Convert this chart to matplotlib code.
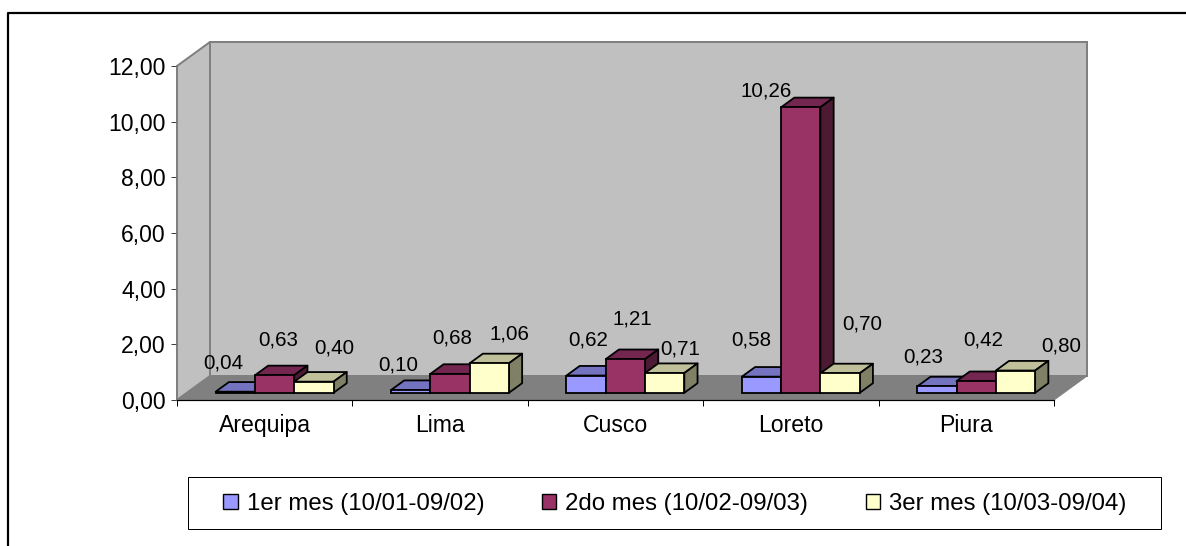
import matplotlib
matplotlib.use('Agg')
import matplotlib.pyplot as plt
from matplotlib.patches import Polygon, Patch, Rectangle
from matplotlib.lines import Line2D
from matplotlib.ticker import FuncFormatter

plt.rcParams['font.family'] = ['Liberation Sans', 'DejaVu Sans']

ciudades = ['Arequipa', 'Lima', 'Cusco', 'Loreto', 'Piura']
mes1 = [0.04, 0.10, 0.62, 0.58, 0.23]
mes2 = [0.63, 0.68, 1.21, 10.26, 0.42]
mes3 = [0.40, 1.06, 0.71, 0.70, 0.80]
series = ['1er mes (10/01-09/02)', '2do mes (10/02-09/03)', '3er mes (10/03-09/04)']
yticks = [0, 2, 4, 6, 8, 10, 12]

# frente, tapa y lateral de cada serie
colores = [('#9999FF', '#7373BF', '#4D4D80'),
           ('#993366', '#732650', '#4D1A33'),
           ('#FFFFCC', '#BFBF99', '#808066')]

W, H = 1186, 546
# desplazamiento de las etiquetas respecto a la esquina superior de la barra (px)
offsets = [[(8, 29), (23, 35), (40, 34)],
           [(7, 25), (22, 36), (40, 29)],
           [(22, 36), (27, 40), (35, 24)],
           [(9, 37), (-15, 16), (42, 49)],
           [(6, 29), (27, 41), (65, 25)]]

fig = plt.figure(figsize=(W / 72, H / 72), dpi=72, facecolor='white')
# plano frontal del grafico
ax = fig.add_axes([177 / W, 1 - 400 / H, 877 / W, 334 / H])
ax.set_xlim(0, 5)
ax.set_ylim(0, 12)
ax.patch.set_visible(False)
for s in ['top', 'right']:
    ax.spines[s].set_visible(False)
ax.spines['left'].set_color('#808080')
ax.spines['left'].set_linewidth(1.5)
ax.spines['bottom'].set_color('black')
ax.spines['bottom'].set_linewidth(1.2)

# fondo en perspectiva
dx = 33 / 175.4
dy = 24 / 27.83
pared = dict(facecolor='#C0C0C0', edgecolor='#808080', linewidth=2, clip_on=False, zorder=0.5)
ax.add_patch(Polygon([(dx, dy), (5 + dx, dy), (5 + dx, 12 + dy), (dx, 12 + dy)], **pared))
ax.add_patch(Polygon([(0, 0), (dx, dy), (dx, 12 + dy), (0, 12)], **pared))
ax.add_patch(Polygon([(0, 0), (5, 0), (5 + dx, dy), (dx, dy)],
                     facecolor='#808080', edgecolor='#808080', clip_on=False, zorder=0.6))

ancho = 0.224
hueco = 0.164
base_x = 0.3 * dx
base_y = 0.3 * dy
fx = 0.4 * dx
fy = 0.4 * dy

z = 2
for i in range(len(ciudades)):
    for j, vals in enumerate([mes1, mes2, mes3]):
        v = vals[i]
        x0 = i + hueco + j * ancho + base_x
        c = colores[j]
        borde = dict(edgecolor='black', linewidth=1.8, clip_on=False, zorder=z, joinstyle='round')
        top = base_y + v
        ax.add_patch(Polygon([(x0, top), (x0 + ancho, top), (x0 + ancho + fx, top + fy), (x0 + fx, top + fy)],
                             facecolor=c[1], **borde))
        ax.add_patch(Polygon([(x0 + ancho, base_y), (x0 + ancho + fx, base_y + fy),
                              (x0 + ancho + fx, top + fy), (x0 + ancho, top)],
                             facecolor=c[2], **borde))
        ax.bar(x0, v, ancho, bottom=base_y, align='edge', color=c[0], clip_on=False, zorder=z,
               edgecolor='black', linewidth=1.8)
        z += 1

for i in range(len(ciudades)):
    for j, vals in enumerate([mes1, mes2, mes3]):
        x0 = i + hueco + j * ancho + base_x
        ax.annotate(f'{vals[i]:.2f}'.replace('.', ','), xy=(x0, base_y + vals[i]),
                    xytext=offsets[i][j], textcoords='offset points',
                    ha='center', va='center', fontsize=20.5, color='black', zorder=100)

ax.set_yticks(yticks)
ax.yaxis.set_major_formatter(FuncFormatter(lambda v, p: f'{v:.2f}'.replace('.', ',')))
ax.set_xticks(range(6))
ax.set_xticklabels([])
ax.set_xticks([i + 0.5 for i in range(5)], minor=True)
ax.set_xticklabels(ciudades, minor=True)
ax.tick_params(axis='x', which='major', length=6, width=1, color='black')
ax.tick_params(axis='x', which='minor', length=0, labelsize=23, pad=14)
ax.tick_params(axis='y', length=6, width=1, color='#404040', labelsize=23, pad=5)

# recuadro exterior: solo se ve el lado izquierdo y el superior
fig.add_artist(Line2D([7.5 / W, 7.5 / W, 1], [0, 1 - 13 / H, 1 - 13 / H], color='black', linewidth=2.2))

# marco de la leyenda
fig.add_artist(Rectangle((188 / W, 1 - 529 / H), 973 / W, 52 / H, transform=fig.transFigure,
                         facecolor='white', edgecolor='black', linewidth=1))
handles = [Patch(facecolor=c[0], edgecolor='black', linewidth=1.4) for c in colores]
fig.legend(handles, series, loc='center', bbox_to_anchor=(675 / W, 1 - 504 / H),
           ncol=3, fontsize=24, frameon=False, borderaxespad=0, borderpad=0, handlelength=0.6,
           handleheight=0.6, handletextpad=0.38, columnspacing=2.39)

fig.savefig('out.png', dpi=72, facecolor='white')
